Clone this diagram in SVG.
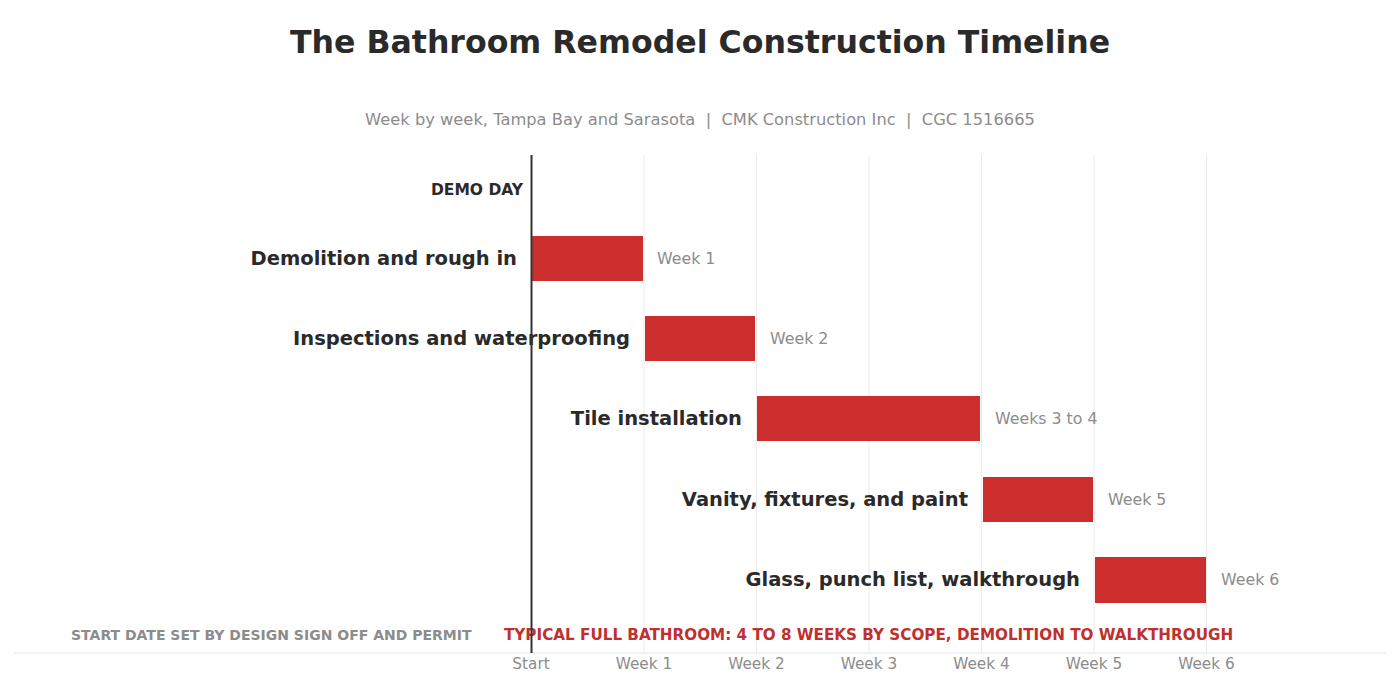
<svg xmlns="http://www.w3.org/2000/svg" width="1400" height="700" viewBox="0 0 1400 700">
<style>
text{font-family:"DejaVu Sans",Verdana,sans-serif}
.title{font-size:31.6px;font-weight:bold;fill:#2a2a2a;text-anchor:middle}
.sub{font-size:16.3px;fill:#8c8c8c;text-anchor:middle;white-space:pre}
.lbl{font-size:19.5px;font-weight:bold;fill:#2a2a2a;text-anchor:end;dominant-baseline:central}
.wk{font-size:15.8px;fill:#8c8c8c;dominant-baseline:central}
.tick{font-size:15.3px;fill:#8c8c8c;text-anchor:middle;dominant-baseline:central}
.grid{stroke:#ebebeb;stroke-width:1}
.bar{fill:#cc2e2e}
.foot{font-weight:bold;dominant-baseline:central}
</style>
<rect width="1400" height="700" fill="#ffffff"/>
<text class="title" x="700" y="53">The Bathroom Remodel Construction Timeline</text>
<text class="sub" x="700" y="125" xml:space="preserve">Week by week, Tampa Bay and Sarasota  |  CMK Construction Inc  |  CGC 1516665</text>
<g id="grid">
<line class="grid" x1="644" y1="155" x2="644" y2="653"/>
<line class="grid" x1="756.5" y1="155" x2="756.5" y2="653"/>
<line class="grid" x1="869" y1="155" x2="869" y2="653"/>
<line class="grid" x1="981.5" y1="155" x2="981.5" y2="653"/>
<line class="grid" x1="1094" y1="155" x2="1094" y2="653"/>
<line class="grid" x1="1206.5" y1="155" x2="1206.5" y2="653"/>
<line x1="14" y1="653" x2="1386" y2="653" stroke="#e6e6e6" stroke-width="1"/>
</g>
<g id="demo-day"><text x="523" y="190" font-size="15.5" font-weight="bold" fill="#2a2a2a" text-anchor="end" dominant-baseline="central">DEMO DAY</text></g>
<g id="task1">
<rect class="bar" x="532" y="236" width="111" height="45"/>
<text class="lbl" x="517" y="258">Demolition and rough in</text>
<text class="wk" x="657" y="258">Week 1</text>
</g>
<g id="task2">
<rect class="bar" x="645" y="316" width="110" height="45"/>
<text class="lbl" x="630" y="338">Inspections and waterproofing</text>
<text class="wk" x="770" y="338">Week 2</text>
</g>
<g id="task3">
<rect class="bar" x="757" y="396" width="223" height="45"/>
<text class="lbl" x="742" y="418">Tile installation</text>
<text class="wk" x="995" y="418">Weeks 3 to 4</text>
</g>
<g id="task4">
<rect class="bar" x="983" y="477" width="110" height="45"/>
<text class="lbl" x="968" y="499">Vanity, fixtures, and paint</text>
<text class="wk" x="1108" y="499">Week 5</text>
</g>
<g id="task5">
<rect class="bar" x="1095" y="557" width="111" height="46"/>
<text class="lbl" x="1080" y="579">Glass, punch list, walkthrough</text>
<text class="wk" x="1221" y="579">Week 6</text>
</g>
<g id="axis">
<text class="tick" x="531" y="664">Start</text>
<text class="tick" x="644" y="664">Week 1</text>
<text class="tick" x="756.5" y="664">Week 2</text>
<text class="tick" x="869" y="664">Week 3</text>
<text class="tick" x="981.5" y="664">Week 4</text>
<text class="tick" x="1094" y="664">Week 5</text>
<text class="tick" x="1206.5" y="664">Week 6</text>
</g>
<g id="footer">
<text class="foot" x="71" y="635" font-size="14" fill="#8c8c8c">START DATE SET BY DESIGN SIGN OFF AND PERMIT</text>
<text class="foot" x="504" y="635" font-size="15.2" fill="#c0302e">TYPICAL FULL BATHROOM: 4 TO 8 WEEKS BY SCOPE, DEMOLITION TO WALKTHROUGH</text>
</g>
<g id="start-line"><line x1="531.5" y1="155" x2="531.5" y2="653" stroke="#333333" stroke-width="2"/></g>
</svg>
